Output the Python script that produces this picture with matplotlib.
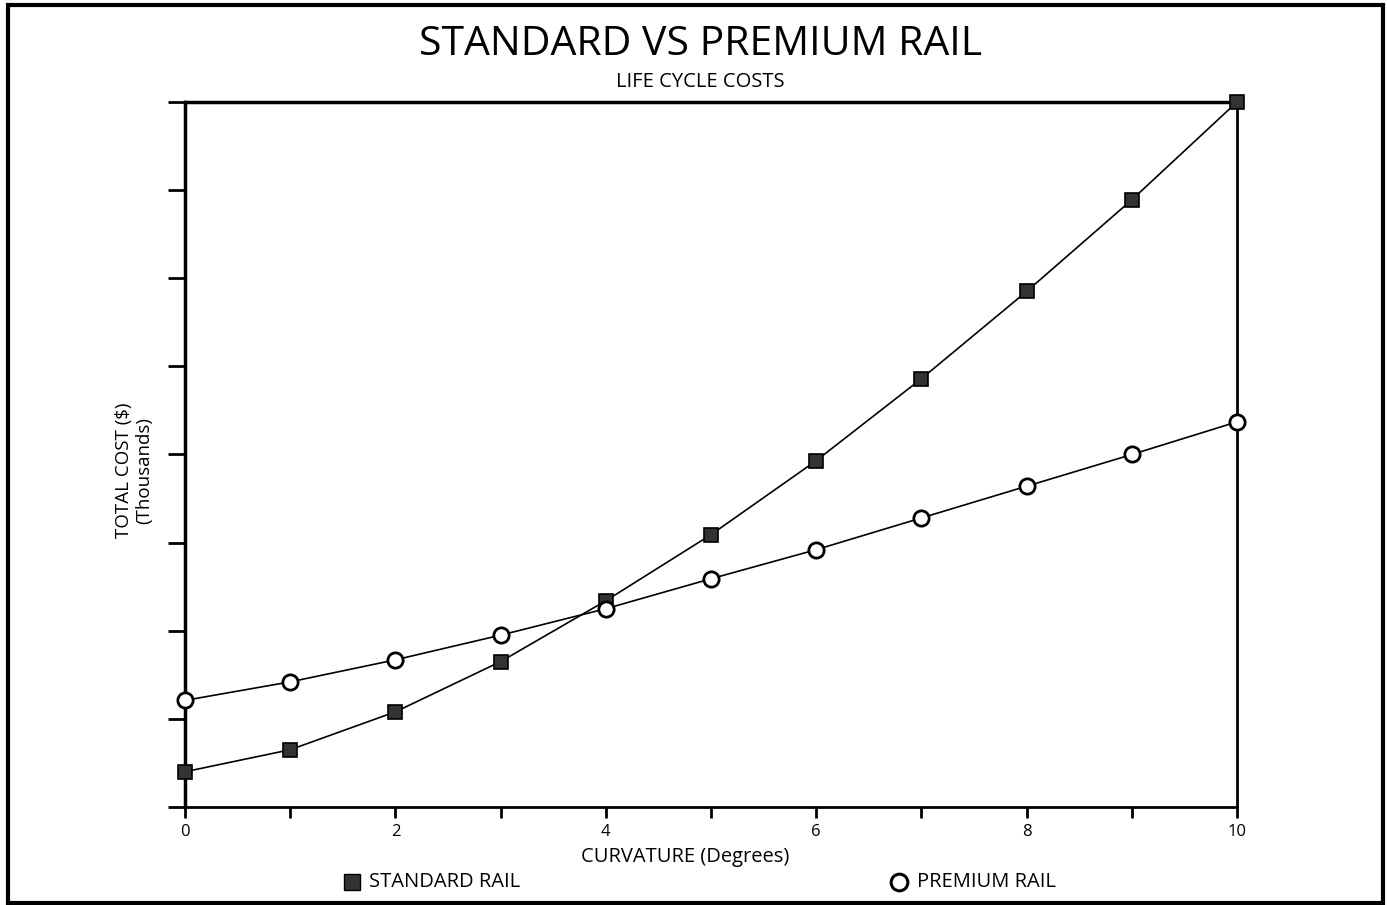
import matplotlib
matplotlib.use("Agg")
import matplotlib.pyplot as plt
from matplotlib.patches import Rectangle

plt.rcParams['font.family'] = ['Open Sans', 'DejaVu Sans']

curvature = [0, 1, 2, 3, 4, 5, 6, 7, 8, 9, 10]
standard_cost = [0.40, 0.65, 1.08, 1.65, 2.34, 3.09, 3.93, 4.86, 5.85, 6.89, 8.00]
premium_cost = [1.21, 1.42, 1.67, 1.95, 2.25, 2.59, 2.92, 3.28, 3.64, 4.00, 4.37]
x_tick_labels = ['0', '', '2', '', '4', '', '6', '', '8', '', '10']

W, H = 1387, 905
fig = plt.figure(figsize=(W / 100, H / 100), dpi=100)

# outer frame
fig.patches.append(Rectangle((8 / W, 1 - 903 / H), (1383 - 8) / W, (903 - 5) / H,
                             transform=fig.transFigure, fill=False, lw=3, ec='black'))

ax = fig.add_axes([185 / W, 1 - 807 / H, (1237 - 185) / W, (807 - 102) / H])
ax.plot(curvature, standard_cost, color='black', lw=1.2, marker='s', ms=10,
        mfc='#333333', mec='black', mew=1.2, zorder=3, clip_on=False)
ax.plot(curvature, premium_cost, color='black', lw=1.2, marker='o', ms=11,
        mfc='white', mec='black', mew=2, zorder=3, clip_on=False)

ax.set_xlim(0, 10)
ax.set_ylim(0, 8)
ax.set_xticks(curvature)
ax.set_xticklabels(x_tick_labels, fontsize=12)
ax.set_yticks(range(0, 9))
ax.set_yticklabels([])
ax.tick_params(axis='x', direction='out', length=8, width=2, pad=4)
ax.tick_params(axis='y', direction='out', length=12, width=2)
for s in ax.spines.values():
    s.set_linewidth(2)
ax.spines['top'].set_linewidth(2.5)
ax.spines['left'].set_linewidth(2.5)

fig.text(701 / W, 1 - 45 / H, 'STANDARD VS PREMIUM RAIL', ha='center', va='center', fontsize=29.5)
fig.text(700 / W, 1 - 82 / H, 'LIFE CYCLE COSTS', ha='center', va='center', fontsize=14.5)
fig.text(685 / W, 1 - 857 / H, 'CURVATURE (Degrees)', ha='center', va='center', fontsize=14.5)
fig.text(134 / W, 1 - 470 / H, 'TOTAL COST ($)\n(Thousands)', ha='center', va='center',
         rotation=90, fontsize=13.5, linespacing=1.2)

# legend
fig.lines.append(plt.Line2D([352 / W], [1 - 882 / H], transform=fig.transFigure,
                            marker='s', ms=11, mfc='#333333', mec='black', ls='none'))
fig.text(369 / W, 1 - 882 / H, 'STANDARD RAIL', ha='left', va='center', fontsize=14.5)
fig.lines.append(plt.Line2D([899 / W], [1 - 882 / H], transform=fig.transFigure,
                            marker='o', ms=12, mfc='white', mec='black', mew=2.2, ls='none'))
fig.text(917 / W, 1 - 882 / H, 'PREMIUM RAIL', ha='left', va='center', fontsize=14.5)

fig.savefig('out.png', dpi=100)
